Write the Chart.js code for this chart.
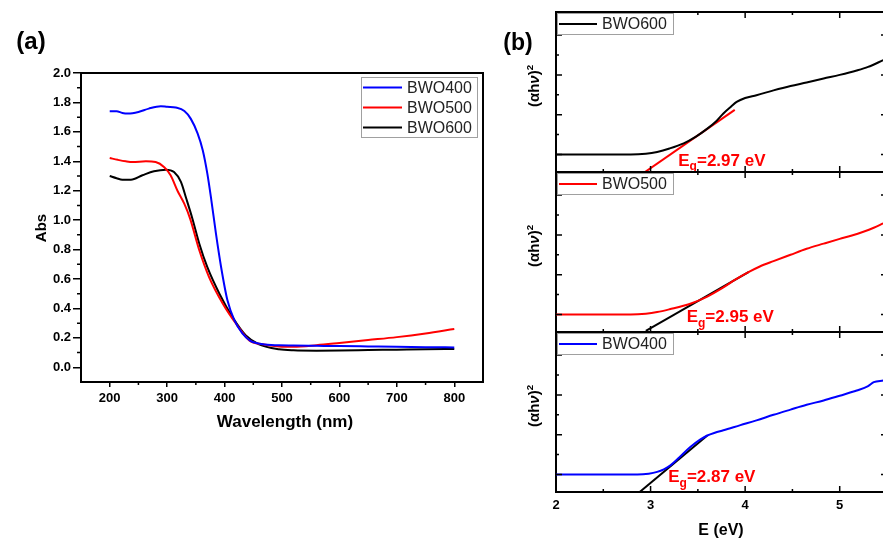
<!DOCTYPE html>
<html>
<head>
<meta charset="utf-8">
<script src="https://cdn.jsdelivr.net/npm/chart.js@4.4.0/dist/chart.umd.min.js"></script>
<style>
  html, body { margin: 0; padding: 0; background: #fff; overflow: hidden; }
  #wrap { position: relative; width: 883px; height: 541px; overflow: hidden; font-family: "Liberation Sans", Arial, sans-serif; }
  canvas { position: absolute; }
  .lbl { position: absolute; font-weight: bold; color: #000; white-space: nowrap; line-height: 1; transform: translate(-50%, -50%); }
  .rot { transform: translate(-50%, -50%) rotate(-90deg); }
  .lbl sup { font-size: 0.65em; vertical-align: 0.55em; }
</style>
</head>
<body>
<div id="wrap">
  <canvas id="chartA" width="520" height="420" style="left:0;top:0"></canvas>
  <canvas id="chartB600" width="347" height="176" style="left:540px;top:0"></canvas>
  <canvas id="chartB500" width="347" height="176" style="left:540px;top:160px"></canvas>
  <canvas id="chartB400" width="347" height="221" style="left:540px;top:320px"></canvas>

  <div class="lbl" style="left:31px;top:41px;font-size:24px">(a)</div>
  <div class="lbl" style="left:518px;top:42px;font-size:23px">(b)</div>
  <div class="lbl rot" style="left:40px;top:228px;font-size:15px">Abs</div>
  <div class="lbl" style="left:285px;top:421px;font-size:17px">Wavelength (nm)</div>
  <div class="lbl" style="left:721px;top:530px;font-size:16px">E (eV)</div>
  <div class="lbl rot" style="left:533px;top:86px;font-size:15px">(αh<i>ν</i>)<sup>2</sup></div>
  <div class="lbl rot" style="left:533px;top:246px;font-size:15px">(αh<i>ν</i>)<sup>2</sup></div>
  <div class="lbl rot" style="left:533px;top:406px;font-size:15px">(αh<i>ν</i>)<sup>2</sup></div>
</div>

<script>
        // (a) absorbance spectra
        const wl400 = [200, 212, 222, 232, 250, 268, 289, 300, 315, 330, 341, 353, 362, 370, 377, 385, 394, 405, 417, 431, 445, 455, 470, 495, 520, 560, 600, 650, 700, 750, 800];
        const abs400 = [1.74, 1.74, 1.728, 1.724, 1.735, 1.758, 1.774, 1.77, 1.765, 1.742, 1.69, 1.59, 1.475, 1.316, 1.135, 0.908, 0.68, 0.455, 0.32, 0.23, 0.18, 0.165, 0.155, 0.149, 0.148, 0.146, 0.144, 0.142, 0.14, 0.137, 0.135];

        const wl500 = [200, 214, 228, 240, 263, 280, 295, 306, 318, 330, 340, 356, 373, 397, 420, 443, 466, 495, 520, 560, 600, 650, 700, 750, 800];
        const abs500 = [1.422, 1.41, 1.40, 1.395, 1.40, 1.395, 1.36, 1.305, 1.20, 1.11, 1.01, 0.795, 0.613, 0.432, 0.296, 0.183, 0.156, 0.142, 0.14, 0.15, 0.165, 0.185, 0.205, 0.23, 0.26];

        const wl600 = [200, 212, 222, 237, 257, 277, 298, 312, 324, 333, 344, 356, 370, 391, 414, 437, 460, 495, 520, 560, 600, 650, 700, 750, 800];
        const abs600 = [1.30, 1.285, 1.275, 1.275, 1.305, 1.332, 1.343, 1.327, 1.26, 1.15, 1.01, 0.84, 0.68, 0.50, 0.34, 0.217, 0.156, 0.122, 0.115, 0.113, 0.114, 0.117, 0.12, 0.123, 0.125];

        const absTicks = [0, 0.2, 0.4, 0.6, 0.8, 1.0, 1.2, 1.4, 1.6, 1.8, 2.0];
        const absMinor = [0.1, 0.3, 0.5, 0.7, 0.9, 1.1, 1.3, 1.5, 1.7, 1.9];
        const wlTicks = [200, 300, 400, 500, 600, 700, 800];
        const wlMinor = [250, 350, 450, 550, 650, 750];

        // (b) Tauc plots
        const e600 = [2.0, 2.5, 2.79, 2.95, 3.07, 3.2, 3.35, 3.48, 3.60, 3.70, 3.77, 3.85, 3.91, 4.0, 4.12, 4.3, 4.48, 4.65, 4.83, 5.0, 5.18, 5.3, 5.46];
        const tauc600 = [0, 0, 0, 0.02, 0.065, 0.15, 0.28, 0.45, 0.65, 0.85, 1.03, 1.2, 1.32, 1.42, 1.49, 1.61, 1.72, 1.81, 1.91, 2.0, 2.11, 2.2, 2.37];

        const e500 = [2.0, 2.5, 2.79, 2.95, 3.07, 3.2, 3.42, 3.6, 3.77, 3.9, 4.04, 4.15, 4.30, 4.48, 4.65, 4.83, 5.0, 5.12, 5.25, 5.36, 5.46];
        const tauc500 = [0, 0, 0, 0.02, 0.06, 0.13, 0.27, 0.45, 0.68, 0.88, 1.07, 1.2, 1.34, 1.5, 1.65, 1.78, 1.9, 1.98, 2.08, 2.18, 2.29];

        const e400 = [2.0, 2.5, 2.86, 2.98, 3.07, 3.14, 3.21, 3.3, 3.42, 3.52, 3.60, 3.68, 3.77, 3.95, 4.12, 4.3, 4.48, 4.65, 4.83, 5.0, 5.18, 5.3, 5.36, 5.46];
        const tauc400 = [0, 0, 0, 0.02, 0.065, 0.13, 0.23, 0.42, 0.69, 0.87, 0.98, 1.05, 1.11, 1.24, 1.36, 1.5, 1.63, 1.75, 1.86, 1.98, 2.11, 2.22, 2.32, 2.36];

        // tangent lines (two end points each)
        const fit600E = [2.905, 3.89], fit600Y = [-0.5, 1.12];
        const fit500E = [2.95, 4.04], fit500Y = [-0.41, 1.07];
        const fit400E = [2.875, 3.60], fit400Y = [-0.46, 0.98];

        const bandGaps = [2.97, 2.95, 2.87];   // BWO600, BWO500, BWO400

        const eTicks = [2, 3, 4, 5];
        const eMinor = [2.5, 3.5, 4.5, 5.5];
        const taucTicks = [0, 1, 2, 3];
        const taucMinor = [0.5, 1.5, 2.5];

        const FONT = '"Liberation Sans", Arial, sans-serif';
        Chart.defaults.font.family = FONT;
        Chart.defaults.color = '#000';

        const toXY = (xs, ys) => xs.map((x, i) => ({ x: x, y: ys[i] }));

        // frame lines + extra tick marks
        const framePlugin = {
            id: 'frame',
            afterDatasetsDraw(chart, args, opts) {
                const { ctx, chartArea: a, scales } = chart;
                ctx.save();
                ctx.strokeStyle = '#000';
                ctx.lineWidth = 2;
                ctx.beginPath();
                if (opts.top) { ctx.moveTo(a.left - 1, a.top); ctx.lineTo(a.right + 1, a.top); }
                if (opts.right) { ctx.moveTo(a.right, a.top - 1); ctx.lineTo(a.right, a.bottom + 1); }
                ctx.stroke();

                ctx.lineWidth = 1.5;
                ctx.beginPath();
                (opts.xTicks || []).forEach(t => {
                    const px = scales.x.getPixelForValue(t.v);
                    if (opts.inward) {
                        ctx.moveTo(px, a.bottom); ctx.lineTo(px, a.bottom - t.len);
                        ctx.moveTo(px, a.top); ctx.lineTo(px, a.top + t.len);
                    } else {
                        ctx.moveTo(px, a.bottom); ctx.lineTo(px, a.bottom + t.len);
                    }
                });
                (opts.yTicks || []).forEach(t => {
                    const py = scales.y.getPixelForValue(t.v);
                    if (opts.inward) {
                        ctx.moveTo(a.left, py); ctx.lineTo(a.left + t.len, py);
                        ctx.moveTo(a.right, py); ctx.lineTo(a.right - t.len, py);
                    } else {
                        ctx.moveTo(a.left, py); ctx.lineTo(a.left - t.len, py);
                    }
                });
                ctx.stroke();
                ctx.restore();
            }
        };

        // boxed legend like Origin's
        const boxLegend = {
            id: 'boxLegend',
            afterDraw(chart, args, opts) {
                const { ctx, chartArea: a } = chart;
                const items = chart.data.datasets.filter(d => d.inLegend);
                if (!items.length) return;
                const x0 = opts.right != null ? a.right - opts.right - opts.width : a.left + opts.left;
                const y0 = a.top + opts.top;
                const h = opts.rowH * items.length;
                ctx.save();
                ctx.fillStyle = '#fff';
                ctx.fillRect(x0, y0, opts.width, h);
                ctx.strokeStyle = '#a0a0a0';
                ctx.lineWidth = 1;
                ctx.strokeRect(x0 + 0.5, y0 + 0.5, opts.width, h);
                items.forEach((d, i) => {
                    const cy = y0 + opts.rowH * (i + 0.5) + 0.5;
                    ctx.strokeStyle = d.borderColor;
                    ctx.lineWidth = 2;
                    ctx.beginPath();
                    ctx.moveTo(x0 + opts.lineX, cy);
                    ctx.lineTo(x0 + opts.lineX + opts.lineLen, cy);
                    ctx.stroke();
                    ctx.fillStyle = '#222';
                    ctx.font = '16px ' + FONT;
                    ctx.textBaseline = 'middle';
                    ctx.fillText(d.label, x0 + opts.textX, cy + 1);
                });
                ctx.restore();
            }
        };

        // "Eg=x.xx eV" annotation
        const egLabel = {
            id: 'egLabel',
            afterDatasetsDraw(chart, args, opts) {
                if (opts.value == null) return;
                const { ctx, scales } = chart;
                let px = scales.x.getPixelForValue(opts.x);
                const py = scales.y.getPixelForValue(opts.y);
                ctx.save();
                ctx.fillStyle = '#ff0000';
                ctx.textBaseline = 'middle';
                ctx.font = 'bold 17px ' + FONT;
                ctx.fillText('E', px, py);
                px += ctx.measureText('E').width;
                ctx.font = 'bold 12px ' + FONT;
                ctx.fillText('g', px, py + 6);
                px += ctx.measureText('g').width;
                ctx.font = 'bold 17px ' + FONT;
                ctx.fillText('=' + opts.value.toFixed(2) + ' eV', px, py);
                ctx.restore();
            }
        };

        function lineSet(label, xs, ys, color, inLegend) {
            return {
                label: label,
                data: toXY(xs, ys),
                borderColor: color,
                borderWidth: 2,
                pointRadius: 0,
                fill: false,
                cubicInterpolationMode: 'monotone',
                inLegend: inLegend
            };
        }

        // ---- panel (a)
        new Chart(document.getElementById('chartA'), {
            type: 'line',
            data: {
                datasets: [
                    lineSet('BWO400', wl400, abs400, '#0000ff', true),
                    lineSet('BWO500', wl500, abs500, '#ff0000', true),
                    lineSet('BWO600', wl600, abs600, '#000000', true)
                ]
            },
            options: {
                responsive: false,
                animation: false,
                layout: { padding: { top: 73, right: 37, left: 0, bottom: 0 } },
                plugins: {
                    legend: { display: false },
                    tooltip: { enabled: false },
                    frame: {
                        top: true, right: true, inward: false,
                        xTicks: wlMinor.map(v => ({ v: v, len: 3 })),
                        yTicks: absMinor.map(v => ({ v: v, len: 4 }))
                    },
                    boxLegend: { right: 6, top: 4, width: 116, rowH: 20, lineX: 2, lineLen: 39, textX: 46 },
                    egLabel: {}
                },
                scales: {
                    x: {
                        type: 'linear',
                        min: 150, max: 850,
                        afterBuildTicks: s => { s.ticks = wlTicks.map(v => ({ value: v })); },
                        afterFit: s => { s.height = 38; },
                        grid: { drawOnChartArea: false, tickLength: 5, tickColor: '#000', lineWidth: 1.5 },
                        border: { color: '#000', width: 2 },
                        ticks: { autoSkip: false, maxRotation: 0, padding: 4, font: { size: 13, weight: 'bold' }, color: '#000' }
                    },
                    y: {
                        min: -0.1, max: 2.0,
                        afterBuildTicks: s => { s.ticks = absTicks.map(v => ({ value: v })); },
                        afterFit: s => { s.width = 81; },
                        grid: { drawOnChartArea: false, tickLength: 8, tickColor: '#000', lineWidth: 1.5 },
                        border: { color: '#000', width: 2 },
                        ticks: { autoSkip: false, padding: 2, font: { size: 13, weight: 'bold' }, color: '#000', callback: v => v.toFixed(1) }
                    }
                }
            },
            plugins: [framePlugin, boxLegend, egLabel]
        });

        // ---- panel (b)
        function taucChart(id, label, xs, ys, color, fitE, fitY, fitColor, gap, egPos, showLabels, axisH) {
            return new Chart(document.getElementById(id), {
                type: 'line',
                data: {
                    datasets: [
                        lineSet(label, xs, ys, color, true),
                        {
                            label: 'fit',
                            data: toXY(fitE, fitY),
                            borderColor: fitColor,
                            borderWidth: 2,
                            pointRadius: 0,
                            tension: 0,
                            inLegend: false
                        }
                    ]
                },
                options: {
                    responsive: false,
                    animation: false,
                    layout: { padding: { top: 12, right: 0, left: 0, bottom: 0 } },
                    plugins: {
                        legend: { display: false },
                        tooltip: { enabled: false },
                        frame: {
                            top: true, right: false, inward: true,
                            xTicks: eTicks.map(v => ({ v: v, len: 6 })).concat(eMinor.map(v => ({ v: v, len: 3 }))),
                            yTicks: taucTicks.map(v => ({ v: v, len: 6 })).concat(taucMinor.map(v => ({ v: v, len: 3 })))
                        },
                        boxLegend: { left: 1, top: 1, width: 116, rowH: 21, lineX: 2, lineLen: 38, textX: 45 },
                        egLabel: { value: gap, x: egPos[0], y: egPos[1] }
                    },
                    scales: {
                        x: {
                            type: 'linear',
                            min: 2, max: 5.5,
                            afterBuildTicks: s => { s.ticks = eTicks.map(v => ({ value: v })); },
                            afterFit: s => { s.height = axisH; },
                            grid: { display: false, drawTicks: false },
                            border: { color: '#000', width: 2 },
                            ticks: { display: showLabels, autoSkip: false, maxRotation: 0, padding: 6, font: { size: 13, weight: 'bold' }, color: '#000' }
                        },
                        y: {
                            min: -0.44, max: 3.58,
                            afterFit: s => { s.width = 16; },
                            grid: { display: false, drawTicks: false },
                            border: { color: '#000', width: 2 },
                            ticks: { display: false }
                        }
                    }
                },
                plugins: [framePlugin, boxLegend, egLabel]
            });
        }

        taucChart('chartB600', 'BWO600', e600, tauc600, '#000000', fit600E, fit600Y, '#ff0000', bandGaps[0], [3.293, -0.16], false, 4);
        taucChart('chartB500', 'BWO500', e500, tauc500, '#ff0000', fit500E, fit500Y, '#000000', bandGaps[1], [3.382, -0.075], false, 4);
        taucChart('chartB400', 'BWO400', e400, tauc400, '#0000ff', fit400E, fit400Y, '#000000', bandGaps[2], [3.187, -0.075], true, 49);
</script>
</body>
</html>
